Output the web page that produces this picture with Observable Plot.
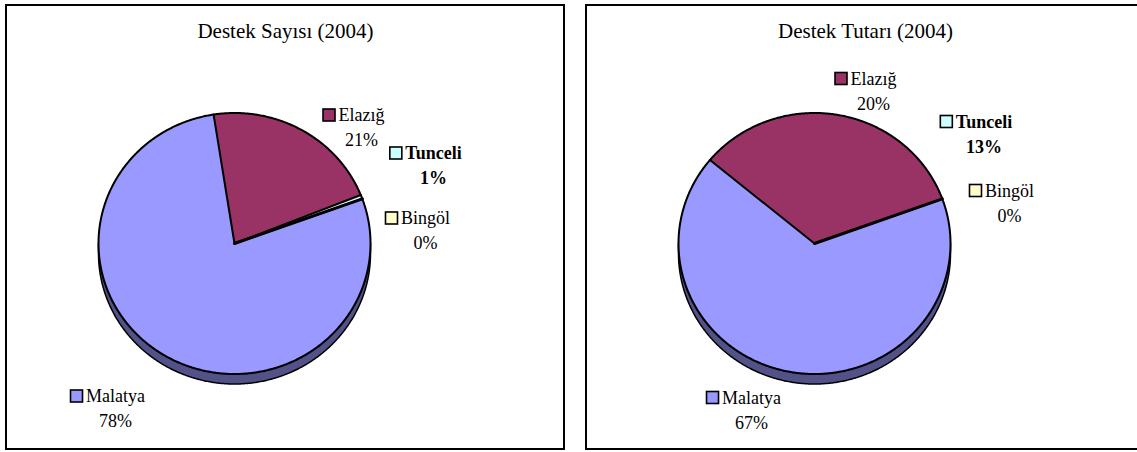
<!DOCTYPE html>
<html><head><meta charset="utf-8">
<script src="https://cdn.jsdelivr.net/npm/d3@7"></script>
<script src="https://cdn.jsdelivr.net/npm/@observablehq/plot@0.6"></script>
<style>
html,body{margin:0;padding:0;background:#fff;overflow:hidden;}
#wrap{position:relative;width:1137px;height:452px;overflow:hidden;background:#fff;}
.panel{position:absolute;top:4px;width:560px;height:446px;border:2px solid #000;box-sizing:border-box;background:#fff;}
.panel svg{display:block;}
</style></head><body><div id="wrap"></div>
<script>
// ---- data ----
const categories = ["Malatya", "Elazığ", "Tunceli", "Bingöl"];
const countShares = [78.1, 21.4, 0.5, 0.0];     // Destek Sayısı (2004), %
const amountShares = [66.6, 20.3, 13.1, 0.0];   // Destek Tutarı (2004), %
const titles = ["Destek Sayısı (2004)", "Destek Tutarı (2004)"];

// ---- styles / layout ----
const colors = {"Malatya": "#9999FF", "Elazığ": "#993366", "Tunceli": "#CCFFFF", "Bingöl": "#FFFFCC"};
const boldCats = new Set(["Tunceli"]);
const FONT = "'Liberation Serif', 'Times New Roman', serif";
const W = 556, H = 442;
const pie = {cx: 227, cy: 237, rx: 136, ry: 130.5, depth: 10, startAngle: 70};
const panels = [
  {title: titles[0], values: countShares, left: 5, fillOverride: {},
   labelOffsets: {"Elazığ": [127, -128], "Tunceli": [199, -90], "Bingöl": [191, -25], "Malatya": [-119, 153]}},
  {title: titles[1], values: amountShares, left: 585, fillOverride: {"Tunceli": "#993366"},
   labelOffsets: {"Elazığ": [59, -164.5], "Tunceli": [169.5, -121.5], "Bingöl": [195, -52.5], "Malatya": [-63, 154.5]}}
];

const ctx = document.createElement("canvas").getContext("2d");
function measure(t, weight) { ctx.font = `${weight} 18px ${FONT}`; return ctx.measureText(t).width; }
function pt(deg, cx, cy) { const r = deg * Math.PI / 180; return {x: cx + pie.rx * Math.sin(r), y: cy - pie.ry * Math.cos(r)}; }
function arc(a0, a1, cx, cy) {
  const n = Math.max(2, Math.ceil(Math.abs(a1 - a0) / 0.5));
  return d3.range(n + 1).map(i => pt(a0 + (a1 - a0) * i / n, cx, cy));
}

const wrap = document.getElementById("wrap");
for (const p of panels) {
  const {cx, cy} = pie;
  const total = d3.sum(p.values);
  let a = pie.startAngle;
  const slices = categories.map((c, i) => {
    const span = p.values[i] / total * 360;
    const s = {cat: c, value: p.values[i], a0: a, a1: a + span, fill: p.fillOverride[c] || colors[c]};
    a += span;
    return s;
  });
  // merge contiguous slices drawn with the same fill (no seam between them)
  const groups = [];
  for (const s of slices) {
    if (s.a1 - s.a0 <= 0) continue;
    const g = groups[groups.length - 1];
    if (g && g.fill === s.fill && Math.abs(g.a1 - s.a0) < 1e-9) g.a1 = s.a1;
    else groups.push({a0: s.a0, a1: s.a1, fill: s.fill});
  }
  const marks = [];
  // side (3D rim) – front half only
  for (const s of groups) {
    for (const shift of [0, 360]) {
      const lo = Math.max(s.a0, 90 + shift), hi = Math.min(s.a1, 270 + shift);
      if (hi > lo) {
        const top = arc(lo, hi, cx, cy), bot = arc(hi, lo, cx, cy + pie.depth);
        const pts = [...top, ...bot, top[0]];
        marks.push(Plot.line(pts, {x: "x", y: "y", fill: d3.color(s.fill).darker(1.75).formatHex(), stroke: "#000", strokeWidth: 1.5}));
      }
    }
  }
  // top faces
  for (const s of groups) {
    const pts = [{x: cx, y: cy}, ...arc(s.a0, s.a1, cx, cy), {x: cx, y: cy}];
    marks.push(Plot.line(pts, {x: "x", y: "y", fill: s.fill, stroke: s.fill, strokeWidth: 0.6}));
  }
  // radial boundaries
  const edges = slices.filter((s, i) => {
    const prev = slices[(i - 1 + slices.length) % slices.length];
    return s.fill !== prev.fill || s.value === 0;
  }).map(s => { const q = pt(s.a0, cx, cy); return {x1: cx, y1: cy, x2: q.x, y2: q.y, w: s.value === 0 ? 3 : 2}; });
  marks.push(Plot.link(edges, {x1: "x1", y1: "y1", x2: "x2", y2: "y2", stroke: "#000", strokeWidth: "w", strokeLinecap: "round"}));
  // outline
  marks.push(Plot.line(arc(0, 360, cx, cy), {x: "x", y: "y", stroke: "#000", strokeWidth: 2}));

  // labels
  const labels = slices.map(s => {
    const off = p.labelOffsets[s.cat];
    const bx = cx + off[0], by = cy + off[1];
    const weight = boldCats.has(s.cat) ? "bold" : "normal";
    const tw = measure(s.cat, weight);
    return {name: s.cat, pct: Math.round(s.value) + "%", x: bx, y1: by, y2: by + 25, weight,
            sx1: bx - tw / 2 - 15, sx2: bx - tw / 2 - 3, sy1: by - 6, sy2: by + 6, swatch: colors[s.cat]};
  });
  marks.push(Plot.rect(labels, {x1: "sx1", x2: "sx2", y1: "sy1", y2: "sy2", fill: "swatch", stroke: "#000", strokeWidth: 1.6}));
  for (const weight of ["normal", "bold"]) {
    const L = labels.filter(d => d.weight === weight);
    marks.push(Plot.text(L, {x: "x", y: "y1", text: "name", fontSize: 18, fontFamily: FONT, fontWeight: weight, fill: "#000"}));
    marks.push(Plot.text(L, {x: "x", y: "y2", text: "pct", fontSize: 18, fontFamily: FONT, fontWeight: weight, fill: "#000"}));
  }
  // title
  marks.push(Plot.text([p.title], {frameAnchor: "top", dy: 17, text: d => d, fontSize: 21, fontFamily: FONT, fill: "#000"}));

  const chart = Plot.plot({
    width: W, height: H, margin: 0,
    x: {domain: [0, W], range: [0, W], axis: null},
    y: {domain: [0, H], range: [0, H], axis: null},
    color: {type: "identity"},
    style: {background: "#fff", fontFamily: FONT, overflow: "visible"},
    marks
  });
  const div = document.createElement("div");
  div.className = "panel";
  div.style.left = p.left + "px";
  div.appendChild(chart);
  wrap.appendChild(div);
}
</script></body></html>
